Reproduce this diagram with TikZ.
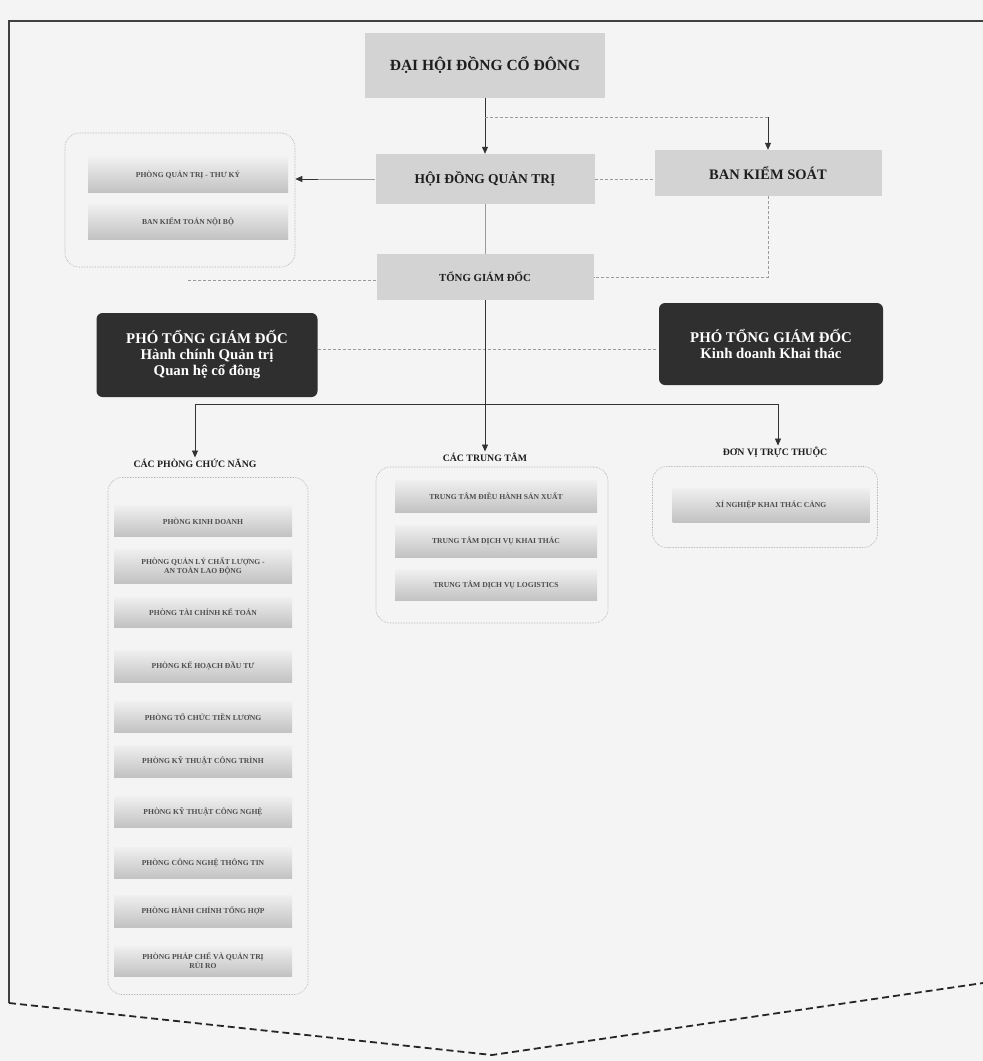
\documentclass[tikz,border=0pt]{standalone}
\usepackage{fontspec}
\setmainfont{Liberation Serif}
\usetikzlibrary{arrows.meta}
\definecolor{bg}{HTML}{F4F4F4}
\definecolor{boxgray}{HTML}{D3D3D3}
\definecolor{darkbox}{HTML}{2F2F2F}
\definecolor{linegray}{HTML}{9A9A9A}
\definecolor{txt}{HTML}{1E1E1E}
\definecolor{smalltxt}{HTML}{4E4E4E}
\tikzset{
  x=1pt, y=-1pt,
  mainbox/.style={fill=boxgray, inner sep=0pt, text=txt, font=\bfseries},
  darkstyle/.style={fill=darkbox, rounded corners=6pt, inner sep=0pt, text=white, align=center, font=\bfseries\fontsize{14.8}{17}\selectfont},
  unitbox/.style={top color=gray!12, bottom color=gray!48, inner sep=0pt, text=smalltxt, align=center, font=\bfseries\fontsize{7.6}{9}\selectfont},
  groupbox/.style={draw=gray!70, densely dotted, rounded corners=14pt, inner sep=0pt, line width=0.6pt},
  grouplabel/.style={text=txt, font=\bfseries\fontsize{9.8}{11}\selectfont, inner sep=1pt},
  dotline/.style={draw=linegray, densely dashed, line width=0.6pt},
  thinline/.style={draw=linegray, line width=0.7pt},
  blackline/.style={draw=black!80, line width=0.8pt},
  arr/.style={-{Triangle[width=6pt,length=7pt]}},
  frameline/.style={draw=black!75, line width=1.6pt},
  vline/.style={draw=black!85, line width=1.8pt, dash pattern=on 7pt off 4pt}
}
\begin{document}
\begin{tikzpicture}
\useasboundingbox[fill=bg] (0,0) rectangle (983,1061);
% frame
\coordinate (ftr) at (983,21);
\coordinate (ftl) at (9,21);
\coordinate (fbl) at (9,1003);
\coordinate (fbm) at (492,1055);
\coordinate (fbr) at (983,983);
\draw[frameline] (ftr) -- (ftl) -- (fbl);
\draw[vline] (fbl) -- (fbm) -- (fbr);

% top level
\node[mainbox, minimum width=240, minimum height=65, font=\bfseries\fontsize{15.5}{17}\selectfont] (dh) at (485,65) {ĐẠI HỘI ĐỒNG CỔ ĐÔNG};
\node[mainbox, minimum width=219, minimum height=50, font=\bfseries\fontsize{13.5}{15}\selectfont] (hd) at (485,179) {HỘI ĐỒNG QUẢN TRỊ};
\node[mainbox, minimum width=227, minimum height=46, font=\bfseries\fontsize{14.5}{16}\selectfont] (bks) at (768,173) {BAN KIỂM SOÁT};
\node[mainbox, minimum width=217, minimum height=46, font=\bfseries\fontsize{10.8}{12}\selectfont] (tg) at (485,277) {TỔNG GIÁM ĐỐC};

% top-left group
\node[groupbox, minimum width=230, minimum height=134] (g0) at (180,200) {};
\node[unitbox, minimum width=200, minimum height=35] (q1) at (188,175) {PHÒNG QUẢN TRỊ - THƯ KÝ};
\node[unitbox, minimum width=200, minimum height=35] (q2) at (188,222) {BAN KIỂM TOÁN NỘI BỘ};

% deputies
\node[darkstyle, minimum width=221, minimum height=84] (p1) at (207,355) {PHÓ TỔNG GIÁM ĐỐC\\[-1pt]Hành chính Quản trị\\[-1pt]Quan hệ cổ đông};
\node[darkstyle, minimum width=224, minimum height=82] (p2) at (771,344) {PHÓ TỔNG GIÁM ĐỐC\\[-1pt]Kinh doanh Khai thác};

% connectors top
\coordinate (j1) at (485,117);
\coordinate (j2) at (768,117);
\coordinate (hl) at (318,179);
\draw[blackline, arr] (dh.south) -- (hd.north);
\draw[dotline] (j1) -- (j2);
\draw[blackline, arr] (j2) -- (bks.north);
\draw[dotline] (hd.east) -- (hd.east -| bks.west);
\draw[thinline] (hd.west) -- (hl);
\draw[blackline, arr] (hl) -- (g0.east |- hl);
\draw[thinline] (hd.south) -- (tg.north);
\draw[dotline] (bks.south) |- (tg.east);
\coordinate (tgl) at (188,280);
\draw[dotline] (tg.west |- tgl) -- (tgl);
\coordinate (pl) at (318,349);
\coordinate (pr) at (658,349);
\draw[dotline] (pl) -- (pr);

% distribution
\coordinate (jb) at (485,404);
\coordinate (a1) at (195,404);
\coordinate (a3) at (778,404);
\draw[blackline] (tg.south) -- (jb);
\draw[blackline] (a1) -- (a3);

% group labels
\node[grouplabel] (l1) at (195,463) {CÁC PHÒNG CHỨC NĂNG};
\node[grouplabel] (l2) at (485,457) {CÁC TRUNG TÂM};
\node[grouplabel] (l3) at (775,452) {ĐƠN VỊ TRỰC THUỘC};
\draw[blackline, arr] (a1) -- (a1 |- l1.north);
\draw[blackline, arr] (jb) -- (jb |- l2.north);
\draw[blackline, arr] (a3) -- (a3 |- l3.north);

% left group
\node[groupbox, minimum width=200, minimum height=517] (g1) at (208,736) {};
\node[unitbox, minimum width=178, minimum height=31] (f1) at (203,521) {PHÒNG KINH DOANH};
\node[unitbox, minimum width=178, minimum height=34] (f2) at (203,566) {PHÒNG QUẢN LÝ CHẤT LƯỢNG -\\AN TOÀN LAO ĐỘNG};
\node[unitbox, minimum width=178, minimum height=30] (f3) at (203,612) {PHÒNG TÀI CHÍNH KẾ TOÁN};
\node[unitbox, minimum width=178, minimum height=32] (f4) at (203,666) {PHÒNG KẾ HOẠCH ĐẦU TƯ};
\node[unitbox, minimum width=178, minimum height=31] (f5) at (203,717) {PHÒNG TỔ CHỨC TIỀN LƯƠNG};
\node[unitbox, minimum width=178, minimum height=32] (f6) at (203,761) {PHÒNG KỸ THUẬT CÔNG TRÌNH};
\node[unitbox, minimum width=178, minimum height=31] (f7) at (203,812) {PHÒNG KỸ THUẬT CÔNG NGHỆ};
\node[unitbox, minimum width=178, minimum height=31] (f8) at (203,863) {PHÒNG CÔNG NGHỆ THÔNG TIN};
\node[unitbox, minimum width=178, minimum height=32] (f9) at (203,911) {PHÒNG HÀNH CHÍNH TỔNG HỢP};
\node[unitbox, minimum width=178, minimum height=30] (f10) at (203,961) {PHÒNG PHÁP CHẾ VÀ QUẢN TRỊ\\RỦI RO};

% centre group
\node[groupbox, minimum width=232, minimum height=156] (g2) at (492,545) {};
\node[unitbox, minimum width=202, minimum height=32] (c1) at (496,496) {TRUNG TÂM ĐIỀU HÀNH SẢN XUẤT};
\node[unitbox, minimum width=202, minimum height=32] (c2) at (496,541) {TRUNG TÂM DỊCH VỤ KHAI THÁC};
\node[unitbox, minimum width=202, minimum height=31] (c3) at (496,585) {TRUNG TÂM DỊCH VỤ LOGISTICS};

% right group
\node[groupbox, minimum width=225, minimum height=81] (g3) at (765,507) {};
\node[unitbox, minimum width=197, minimum height=34] (r1) at (771,505) {XÍ NGHIỆP KHAI THÁC CẢNG};
\end{tikzpicture}
\end{document}
